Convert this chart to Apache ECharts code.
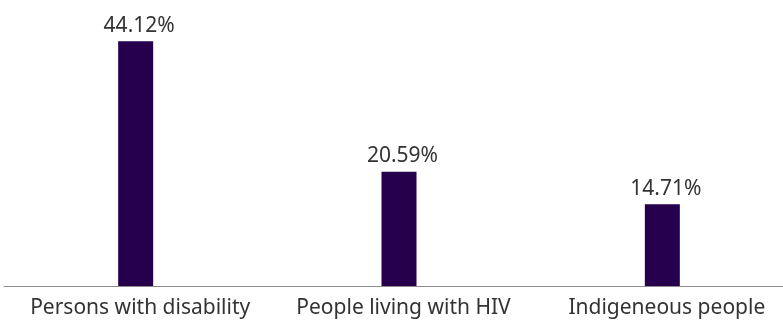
<!DOCTYPE html>
<html>
<head>
<meta charset="utf-8">
<script src="https://cdn.jsdelivr.net/npm/echarts@6/dist/echarts.min.js"></script>
<style>
  html, body { margin: 0; padding: 0; background: #fff; overflow: hidden; }
  #chart { width: 800px; height: 322px; }
</style>
</head>
<body>
<div id="chart"></div>
<script>
var categories = ['Persons with disability', 'People living with HIV', 'Indigeneous people'];
var shares = [44.12, 20.59, 14.71];

var chart = echarts.init(document.getElementById('chart'));
var option = {
    animation: false,
    textStyle: { fontFamily: 'Noto Sans' },
    grid: {
        left: 4,
        width: 790,
        top: 8.5,
        bottom: 36,
        containLabel: false
    },
    xAxis: {
        type: 'category',
        data: categories,
        axisLine: { lineStyle: { color: '#8c8c8c', width: 1 } },
        axisTick: { show: false },
        axisLabel: {
            color: '#333',
            fontSize: 21,
            margin: 12,
            padding: [0, 0, 0, 9],
            interval: 0
        }
    },
    yAxis: {
        type: 'value',
        min: 0,
        max: 50,
        show: false
    },
    series: [{
        type: 'bar',
        data: shares,
        barWidth: 35,
        itemStyle: { color: '#26004d' },
        label: {
            show: true,
            position: 'top',
            distance: 5,
            color: '#333',
            fontSize: 21,
            padding: [0, 0, 0, 7],
            formatter: function (p) { return p.value.toFixed(2) + '%'; }
        }
    }]
};
chart.setOption(option);
</script>
</body>
</html>
